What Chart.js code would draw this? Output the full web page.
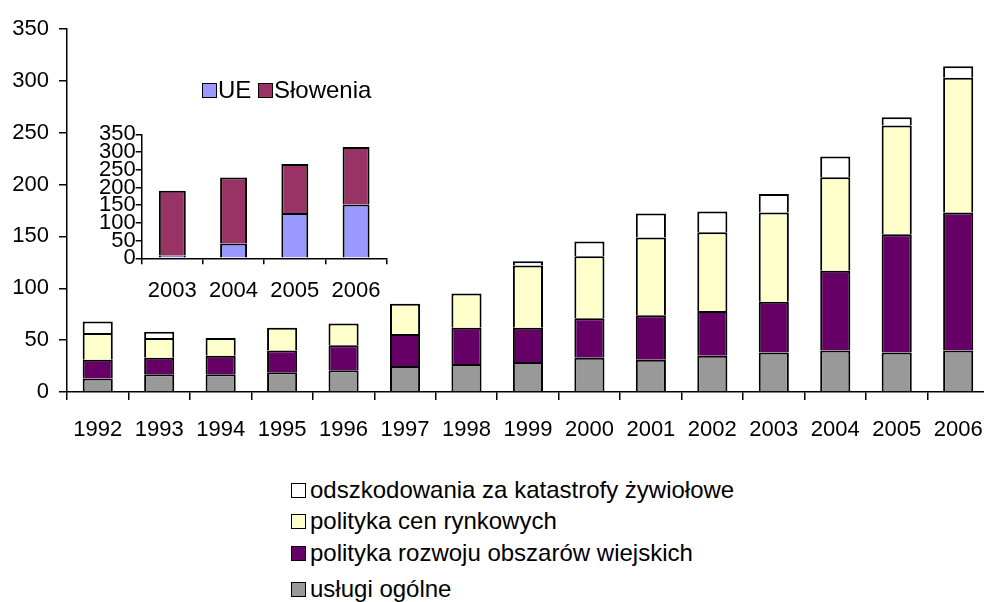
<!DOCTYPE html>
<html>
<head>
    <meta charset="utf-8">
    <title>Wsparcie rolnictwa 1992-2006</title>
    <script src="https://cdn.jsdelivr.net/npm/chart.js"></script>
    <style>
        body{
            margin: 0;
            background: #fff;
            overflow: hidden;
            font-family: "Liberation Sans", Arial, sans-serif;
        }
        .wrap{
            position: relative;
            width: 984px;
            height: 602px;
        }
        #mainChart{
            position: absolute;
            left: 0;
            top: 0;
        }
        #insetChart{
            position: absolute;
            left: 0;
            top: 0;
        }
        .legend-item{
            position: absolute;
            height: 26px;
            line-height: 26px;
            font-size: 24px;
            color: #000;
            white-space: nowrap;
        }
        .legend-item span.box{
            position: absolute;
            top: 6px;
            width: 13px;
            height: 13px;
            border: 1px solid #000;
        }
    </style>
</head>
<body>
<div class="wrap">
    <canvas id="mainChart" width="1000" height="460"></canvas>
    <canvas id="insetChart" width="400" height="310"></canvas>
    <div id="mainLegend"></div>
    <div id="insetLegend"></div>
</div>
<script>
    // main chart: yearly totals split by category
    const years = ['1992', '1993', '1994', '1995', '1996', '1997', '1998', '1999',
                   '2000', '2001', '2002', '2003', '2004', '2005', '2006'];
    const uslugiOgolne   = [13, 17, 17, 19, 21, 25, 27, 29, 33, 31, 35, 38, 40, 38, 40];
    const rozwojWsi      = [18, 16, 18, 21, 24, 31, 35, 33, 38, 43, 43, 49, 77, 114, 133];
    const cenyRynkowe    = [26, 19, 17, 22, 21, 29, 33, 60, 60, 75, 76, 86, 90, 105, 130];
    const katastrofy     = [11, 6, null, null, null, null, null, 4, 14, 23, 20, 18, 20, 8, 11];
    const yTicks = [0, 50, 100, 150, 200, 250, 300, 350];

    // inset: EU vs national share
    const insetYears = ['2003', '2004', '2005', '2006'];
    const ue       = [8, 42, 128, 152];
    const slowenia = [183, 186, 138, 162];

    const font = { family: '"Liberation Sans", Arial, sans-serif', size: 22 };

    Chart.defaults.color = '#000';
    Chart.defaults.font = font;

    // bottom edge skipped, so each boundary is the top border of the segment below
    function seg(label, data, color, pct) {
        return {
            label: label,
            data: data,
            backgroundColor: color,
            borderColor: '#000',
            borderWidth: 2,
            borderSkipped: 'start',
            categoryPercentage: 1,
            barPercentage: pct
        };
    }

    const mainChart = new Chart(document.getElementById('mainChart'), {
        type: 'bar',
        data: {
            labels: years,
            datasets: [
                seg('usługi ogólne', uslugiOgolne, '#999999', 0.49),
                seg('polityka rozwoju obszarów wiejskich', rozwojWsi, '#660066', 0.49),
                seg('polityka cen rynkowych', cenyRynkowe, '#FFFFCC', 0.49),
                seg('odszkodowania za katastrofy żywiołowe', katastrofy, '#FFFFFF', 0.49)
            ]
        },
        options: {
            responsive: false,
            animation: false,
            layout: { padding: { top: 29, right: 10.5, left: 0, bottom: 0 } },
            plugins: { legend: { display: false }, tooltip: { enabled: false } },
            scales: {
                x: {
                    stacked: true,
                    grid: { display: true, drawOnChartArea: false, color: '#000', lineWidth: 1.5, tickLength: 8, offset: true },
                    border: { color: '#000', width: 1.5 },
                    ticks: { padding: 17, maxRotation: 0, autoSkip: false },
                    afterFit: s => { s.height = 68; }
                },
                y: {
                    stacked: true,
                    min: 0,
                    max: 350,
                    afterBuildTicks: s => { s.ticks = yTicks.map(v => ({ value: v })); },
                    grid: { display: true, drawOnChartArea: false, color: '#000', lineWidth: 1.5, tickLength: 8 },
                    border: { color: '#000', width: 1.5 },
                    ticks: { padding: 10, autoSkip: false },
                    afterFit: s => { s.width = 67; }
                }
            }
        }
    });

    const insetChart = new Chart(document.getElementById('insetChart'), {
        type: 'bar',
        data: {
            labels: insetYears,
            datasets: [
                seg('UE', ue, '#9999FF', 0.44),
                seg('Słowenia', slowenia, '#993366', 0.44)
            ]
        },
        options: {
            responsive: false,
            animation: false,
            layout: { padding: { top: 134.3, right: 13.3, left: 0, bottom: 0 } },
            plugins: { legend: { display: false }, tooltip: { enabled: false } },
            scales: {
                x: {
                    stacked: true,
                    grid: { display: true, drawOnChartArea: false, color: '#000', lineWidth: 1.5, tickLength: 6, offset: true },
                    border: { color: '#000', width: 1.5 },
                    ticks: { padding: 13, maxRotation: 0, autoSkip: false },
                    afterFit: s => { s.height = 51.7; }
                },
                y: {
                    stacked: true,
                    min: 0,
                    max: 350,
                    afterBuildTicks: s => { s.ticks = yTicks.map(v => ({ value: v })); },
                    grid: { display: true, drawOnChartArea: false, color: '#000', lineWidth: 1.5, tickLength: 6 },
                    border: { color: '#000', width: 1.5 },
                    ticks: { padding: 0, autoSkip: false },
                    afterFit: s => { s.width = 141.7; }
                }
            }
        }
    });

    // html legends built from the chart datasets
    function addItem(parent, ds, left, top, textLeft) {
        const item = document.createElement('div');
        item.className = 'legend-item';
        item.style.left = left + 'px';
        item.style.top = top + 'px';
        const box = document.createElement('span');
        box.className = 'box';
        box.style.left = '0px';
        box.style.background = ds.backgroundColor;
        item.appendChild(box);
        const txt = document.createElement('span');
        txt.style.marginLeft = textLeft + 'px';
        txt.textContent = ds.label;
        item.appendChild(txt);
        parent.appendChild(item);
    }

    const mainLegend = document.getElementById('mainLegend');
    const rowTops = [477, 508, 540, 576];
    mainChart.data.datasets.slice().reverse().forEach((ds, i) => {
        addItem(mainLegend, ds, 291, rowTops[i], 19);
    });

    const insetLegend = document.getElementById('insetLegend');
    const insetLefts = [202, 258];
    insetChart.data.datasets.forEach((ds, i) => {
        addItem(insetLegend, ds, insetLefts[i], 77, 16);
    });
</script>
</body>
</html>
